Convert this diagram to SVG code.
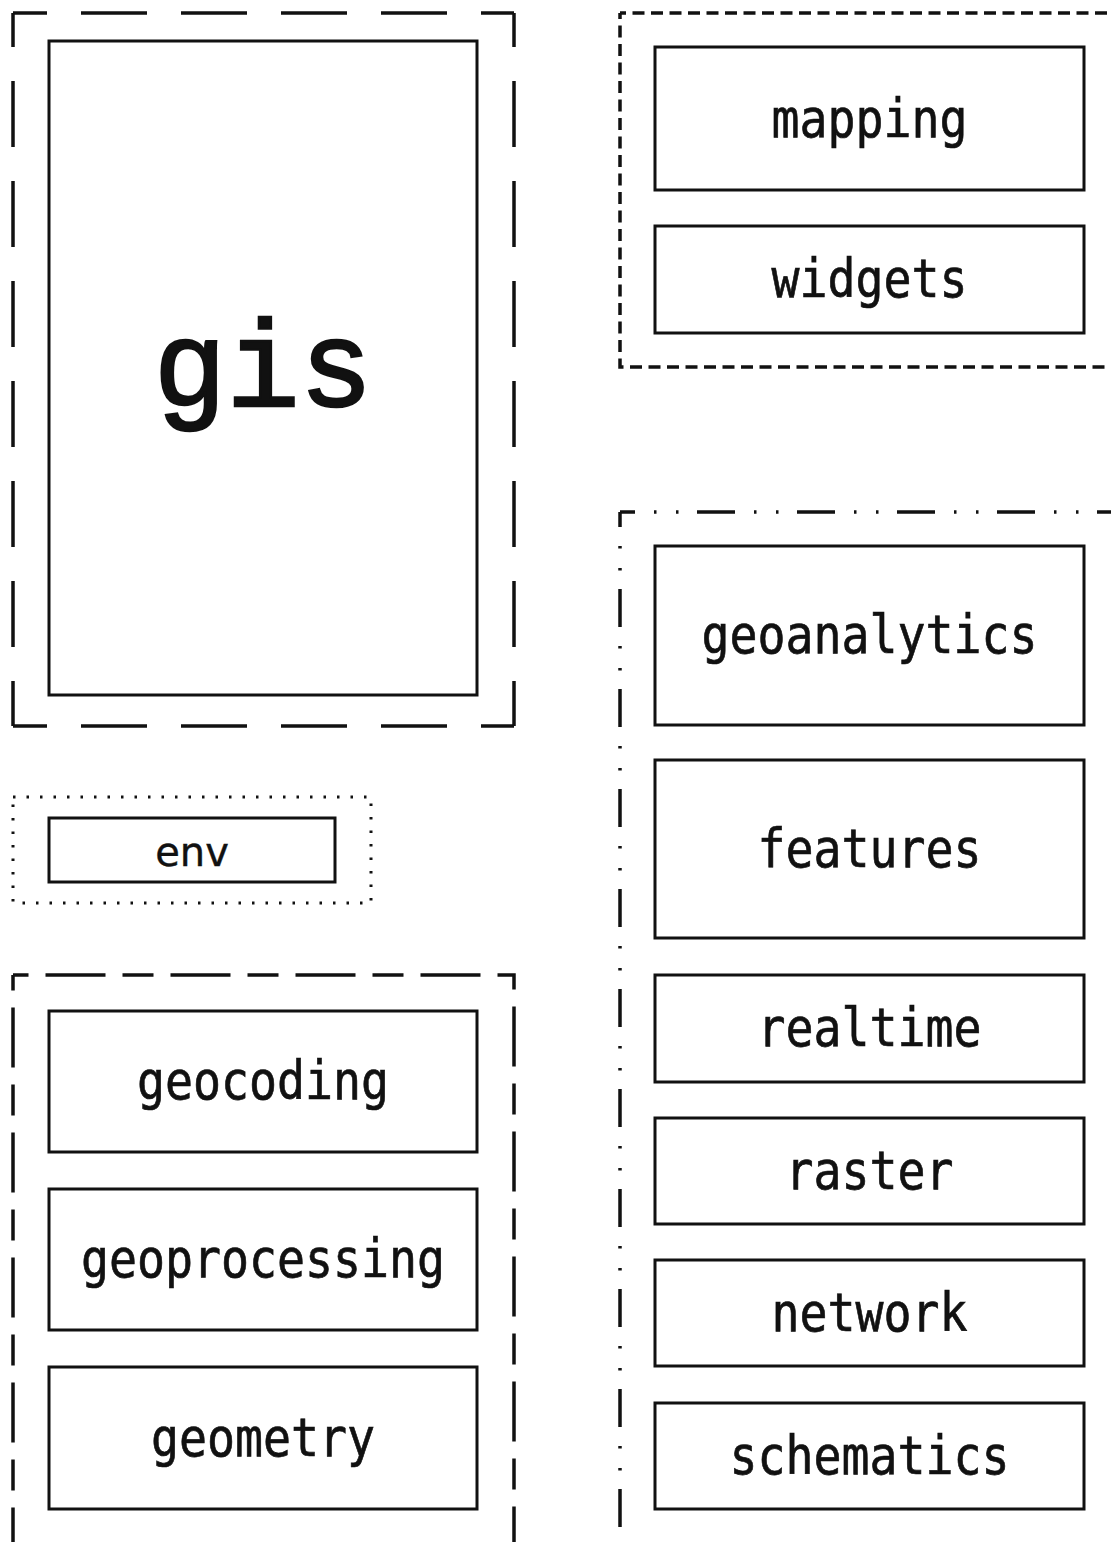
<svg xmlns="http://www.w3.org/2000/svg" width="1111" height="1542" viewBox="0 0 1111 1542">
<style>
.bg{fill:#ffffff}
.node{fill:#ffffff;stroke:#111;stroke-width:3}
.grp{fill:none;stroke:#111;stroke-width:3.5}
.g-long{stroke-dasharray:66 34;stroke-dashoffset:32}
.g-short{stroke-dasharray:12 6.5;stroke-dashoffset:6}
.g-dot{stroke-width:3;stroke-dasharray:2.5 11}
.g-ls{stroke-dasharray:60 17 31 17;stroke-dashoffset:92.5}
.g-dd{stroke-dasharray:38 19 2.5 19.5 2.5 18.5;stroke-dashoffset:23}
.lbl{font-family:"DejaVu Sans Mono",monospace;font-size:54px;fill:#111;stroke:#111;stroke-width:0.7;text-anchor:middle}
.big{font-family:"Liberation Mono","Courier New",monospace;font-size:122px;fill:#111;stroke:#111;stroke-width:2.5;text-anchor:middle}
.env{font-family:"DejaVu Sans",sans-serif;font-size:40px;fill:#111;stroke:#111;stroke-width:0.4;text-anchor:middle}
</style>
<rect class="bg" x="0" y="0" width="1111" height="1542"/>

<g id="clusters">
  <g id="cluster-gis">
    <path class="grp g-long" d="M13,13 H514"/>
    <path class="grp g-long" d="M13,726 H514"/>
    <path class="grp g-long" d="M13,13 V726"/>
    <path class="grp g-long" d="M514,13 V726"/>
  </g>
  <g id="cluster-top-right">
    <path class="grp g-short" d="M620,13 H1130"/>
    <path class="grp g-short" d="M620,13 V367 H1130"/>
  </g>
  <rect id="cluster-env" class="grp g-dot" x="13" y="797" width="358" height="106"/>
  <g id="cluster-bottom-left">
    <path class="grp g-ls" d="M13,975 H514 V1600"/>
    <path class="grp g-ls" d="M13,975 V1600"/>
  </g>
  <g id="cluster-bottom-right">
    <path class="grp g-dd" d="M620,512 H1130"/>
    <path class="grp g-dd" d="M620,512 V1600"/>
  </g>
</g>

<g id="node-gis"><rect class="node" x="49" y="41" width="428" height="654"/><text class="big" x="263" y="406">gis</text></g>
<g id="node-mapping"><rect class="node" x="655" y="47" width="429" height="143"/><text class="lbl" x="869.5" y="137" textLength="196" lengthAdjust="spacingAndGlyphs">mapping</text></g>
<g id="node-widgets"><rect class="node" x="655" y="226" width="429" height="107"/><text class="lbl" x="869.5" y="297" textLength="196" lengthAdjust="spacingAndGlyphs">widgets</text></g>
<g id="node-env"><rect class="node" x="49" y="818" width="286" height="64"/><text class="env" x="192" y="866">env</text></g>
<g id="node-geocoding"><rect class="node" x="49" y="1011" width="428" height="141"/><text class="lbl" x="263" y="1099" textLength="252" lengthAdjust="spacingAndGlyphs">geocoding</text></g>
<g id="node-geoprocessing"><rect class="node" x="49" y="1189" width="428" height="141"/><text class="lbl" x="263" y="1277" textLength="364" lengthAdjust="spacingAndGlyphs">geoprocessing</text></g>
<g id="node-geometry"><rect class="node" x="49" y="1367" width="428" height="142"/><text class="lbl" x="263" y="1456" textLength="224" lengthAdjust="spacingAndGlyphs">geometry</text></g>
<g id="node-geoanalytics"><rect class="node" x="655" y="546" width="429" height="179"/><text class="lbl" x="869.5" y="653" textLength="336" lengthAdjust="spacingAndGlyphs">geoanalytics</text></g>
<g id="node-features"><rect class="node" x="655" y="760" width="429" height="178"/><text class="lbl" x="869.5" y="867" textLength="224" lengthAdjust="spacingAndGlyphs">features</text></g>
<g id="node-realtime"><rect class="node" x="655" y="975" width="429" height="107"/><text class="lbl" x="869.5" y="1046" textLength="224" lengthAdjust="spacingAndGlyphs">realtime</text></g>
<g id="node-raster"><rect class="node" x="655" y="1118" width="429" height="106"/><text class="lbl" x="869.5" y="1189" textLength="168" lengthAdjust="spacingAndGlyphs">raster</text></g>
<g id="node-network"><rect class="node" x="655" y="1260" width="429" height="106"/><text class="lbl" x="869.5" y="1331" textLength="196" lengthAdjust="spacingAndGlyphs">network</text></g>
<g id="node-schematics"><rect class="node" x="655" y="1403" width="429" height="106"/><text class="lbl" x="869.5" y="1474" textLength="280" lengthAdjust="spacingAndGlyphs">schematics</text></g>

<g id="connectors"></g>
</svg>
